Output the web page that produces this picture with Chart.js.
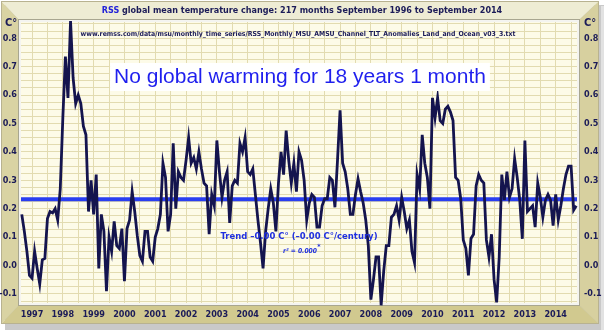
<!DOCTYPE html>
<html><head><meta charset="utf-8">
<script src="https://cdn.jsdelivr.net/npm/chart.js@4.4.0/dist/chart.umd.min.js"></script>
<style>html,body{margin:0;padding:0;background:#fff}#wrap{width:604px;height:330px;position:relative}</style>
</head><body><div id="wrap"><canvas id="c"></canvas></div>
<script>
// ---- data (monthly anomalies, C°, Sep 1996 .. Sep 2014) ----
const firstYear = 1996;
const firstMonth = 9;
const anomalies = [
  0.18, 0.12, 0.05, -0.035, -0.045, 0.05, -0.01, -0.065, 0.02, 0.025,
  0.165, 0.19, 0.185, 0.20, 0.16, 0.27, 0.52, 0.735, 0.59, 0.86,
  0.66, 0.57, 0.60, 0.57, 0.49, 0.46, 0.19, 0.30, 0.18, 0.32,
  -0.01, 0.18, 0.12, -0.09, 0.10, 0.05, 0.155, 0.07, 0.06, 0.13,
  -0.055, 0.13, 0.16, 0.26, 0.19, 0.105, 0.035, 0.015, 0.12, 0.12,
  0.03, 0.015, 0.10, 0.13, 0.18, 0.36, 0.31, 0.12, 0.18, 0.43,
  0.20, 0.33, 0.31, 0.30, 0.37, 0.45, 0.36, 0.38, 0.34, 0.40,
  0.34, 0.29, 0.28, 0.11, 0.25, 0.21, 0.44, 0.33, 0.24, 0.30,
  0.33, 0.15, 0.28, 0.30, 0.29, 0.43, 0.40, 0.45, 0.33, 0.32,
  0.34, 0.25, 0.16, 0.08, -0.01, 0.12, 0.20, 0.27, 0.22, 0.12,
  0.29, 0.40, 0.32, 0.475, 0.37, 0.29, 0.36, 0.26, 0.40, 0.37,
  0.30, 0.16, 0.22, 0.25, 0.24, 0.135, 0.135, 0.21, 0.235, 0.235,
  0.31, 0.30, 0.205, 0.37, 0.546, 0.36, 0.33, 0.27, 0.18, 0.18,
  0.25, 0.305, 0.26, 0.22, 0.16, 0.07, -0.12, -0.05, 0.03, 0.03,
  -0.14, -0.02, 0.07, 0.07, 0.17, 0.18, 0.21, 0.16, 0.24, 0.19,
  0.13, 0.16, 0.05, 0.01, 0.32, 0.27, 0.46, 0.36, 0.31, 0.20,
  0.59, 0.52, 0.59, 0.51, 0.50, 0.55, 0.56, 0.54, 0.51, 0.31,
  0.30, 0.235, 0.09, 0.06, -0.035, 0.095, 0.11, 0.28, 0.32, 0.30,
  0.29, 0.09, 0.03, 0.11, -0.05, -0.13, 0.03, 0.32, 0.23, 0.33,
  0.24, 0.27, 0.376, 0.31, 0.23, 0.094, 0.44, 0.19, 0.20, 0.21,
  0.135, 0.29, 0.24, 0.17, 0.23, 0.25, 0.23, 0.14, 0.25, 0.16,
  0.21, 0.27, 0.32, 0.35, 0.35, 0.195, 0.21
];
const trendLevel = 0.233;
const yearLabels = ['1997','1998','1999','2000','2001','2002','2003','2004','2005','2006','2007','2008','2009','2010','2011','2012','2013','2014'];
const yTickLabels = ['-0.1','0.0','0.1','0.2','0.3','0.4','0.5','0.6','0.7','0.8'];
const titleLead = 'RSS';
const titleRest = ' global mean temperature change: 217 months September 1996 to September 2014';
const sourceText = 'www.remss.com/data/msu/monthly_time_series/RSS_Monthly_MSU_AMSU_Channel_TLT_Anomalies_Land_and_Ocean_v03_3.txt';
const headline = 'No global warming for 18 years 1 month';
const trendText = 'Trend \u20130.00 C\u00b0 (\u20130.00 C\u00b0/century)';
const r2Text = 'r\u00b2 = 0.000';
const unitLabel = 'C\u00b0';

// ---- build ----
const NARROW = "'Liberation Sans Narrow','Arial Narrow','DejaVu Sans Condensed',sans-serif";
const ARIAL = "'Liberation Sans',Arial,sans-serif";
const NAVY = '#1b1b58';
const lineData = anomalies.map((v, i) => ({x: i, y: v}));
const xMin = -0.3, xMax = anomalies.length - 1 + 0.3;
const trendData = [{x: xMin, y: trendLevel}, {x: xMax, y: trendLevel}];

const xTickMap = new Map();
yearLabels.forEach(y => {
  const idx = (Number(y) - firstYear) * 12 + (1 - firstMonth);
  xTickMap.set(idx, y);
  xTickMap.set(idx + 6, '');
});
const yLabelMap = new Map(yTickLabels.map(t => [Math.round(parseFloat(t) * 1000), t]));

function yTicksBuild(scale) {
  const t = [];
  for (let k = -5; k <= 34; k++) t.push({value: k * 0.025});
  scale.ticks = t;
}
function yLabel(v) { return yLabelMap.get(Math.round(v * 1000)) || ''; }

function fitFont(ctx, text, weight, family, style, target) {
  let size = 20;
  ctx.font = `${style} ${weight} ${size}px ${family}`;
  const w = ctx.measureText(text).width;
  size = size * target / w;
  return `${style} ${weight} ${size.toFixed(2)}px ${family}`;
}

const framePlugin = {
  id: 'frame',
  beforeDraw(chart) {
    const ctx = chart.ctx, a = chart.chartArea;
    const W = chart.width, H = chart.height;
    ctx.save();
    ctx.fillStyle = '#ffffff';
    ctx.fillRect(0, 0, W, H);
    ctx.fillStyle = '#c9c9c9';
    ctx.fillRect(5, 5, W - 5, H - 5);
    ctx.fillStyle = '#e2e2e2';
    ctx.fillRect(W - 3, 6, 3, H - 6);
    const L = 1, T = 1, R = W - 5, B = H - 6;
    const il = a.left - 2, it = a.top - 2, ir = a.right + 2, ib = a.bottom + 2;
    function quad(pts, col) {
      ctx.beginPath(); ctx.moveTo(pts[0][0], pts[0][1]);
      for (let i = 1; i < pts.length; i++) ctx.lineTo(pts[i][0], pts[i][1]);
      ctx.closePath(); ctx.fillStyle = col; ctx.fill();
    }
    quad([[L,T],[R,T],[ir,it],[il,it]], '#eeecd4');
    quad([[L,T],[il,it],[il,ib],[L,B]], '#d9d3a3');
    quad([[R,T],[R,B],[ir,ib],[ir,it]], '#d7d09f');
    quad([[L,B],[il,ib],[ir,ib],[R,B]], '#d1c98f');
    ctx.strokeStyle = '#b8b290'; ctx.lineWidth = 1;
    ctx.strokeRect(L + 0.5, T + 0.5, R - L - 1, B - T - 1);
    ctx.strokeStyle = '#a8a690'; ctx.lineWidth = 1;
    ctx.strokeRect(a.left - 2.5, a.top - 2.5, a.right - a.left + 5, a.bottom - a.top + 5);
    ctx.strokeStyle = '#f4f4f0'; ctx.lineWidth = 2;
    ctx.strokeRect(a.left - 1, a.top - 1, a.right - a.left + 2, a.bottom - a.top + 2);
    ctx.fillStyle = '#fdfbe8';
    ctx.fillRect(a.left, a.top, a.right - a.left, a.bottom - a.top);
    ctx.textBaseline = 'middle';
    const full = titleLead + titleRest;
    ctx.font = fitFont(ctx, full, 'bold', NARROW, 'normal', 401);
    const tw = ctx.measureText(full).width;
    let tx = 302 - tw / 2;
    ctx.textAlign = 'left';
    ctx.fillStyle = '#2323d8';
    ctx.fillText(titleLead, tx, 11);
    ctx.fillStyle = NAVY;
    ctx.fillText(titleRest, tx + ctx.measureText(titleLead).width, 11);
    ctx.font = `bold 11px ${NARROW}`;
    ctx.fillStyle = NAVY;
    ctx.textAlign = 'center';
    ctx.fillText(unitLabel, 11, 23);
    ctx.fillText(unitLabel, 590, 23);
    ctx.restore();
  },
  afterDatasetsDraw(chart) {
    const ctx = chart.ctx;
    ctx.save();
    ctx.textBaseline = 'middle';
    ctx.textAlign = 'center';
    ctx.font = fitFont(ctx, sourceText, 'bold', NARROW, 'normal', 435);
    ctx.fillStyle = NAVY;
    ctx.fillText(sourceText, 298, 34);
    ctx.font = fitFont(ctx, headline, 'normal', ARIAL, 'normal', 372);
    const hw = ctx.measureText(headline).width;
    ctx.fillStyle = '#ffffff';
    ctx.fillRect(300 - hw / 2 - 4, 63, hw + 8, 28);
    ctx.fillStyle = '#1f1fee';
    ctx.fillText(headline, 300, 77);
    ctx.font = fitFont(ctx, trendText, 'bold', NARROW, 'normal', 157);
    ctx.fillStyle = '#1f2fe0';
    ctx.fillText(trendText, 299, 237);
    ctx.font = fitFont(ctx, r2Text, 'bold', NARROW, 'italic', 34);
    ctx.fillText(r2Text, 300, 251);
    ctx.font = `bold 7px ${NARROW}`;
    ctx.fillText('*', 319, 247);
    ctx.restore();
  }
};

const gridColor = '#e2dbb0';
new Chart(document.getElementById('c'), {
  type: 'line',
  data: {
    datasets: [
      {data: lineData, borderColor: '#14144e', borderWidth: 2.8, pointRadius: 0, tension: 0, order: 1, clip: false},
      {data: trendData, borderColor: '#2a3ef0', borderWidth: 4, pointRadius: 0, order: 2}
    ]
  },
  options: {
    responsive: true, maintainAspectRatio: false, animation: false,
    layout: {padding: {top: 22, left: 0, right: 0, bottom: 0}},
    plugins: {legend: {display: false}, tooltip: {enabled: false}},
    scales: {
      x: {
        type: 'linear', min: xMin, max: xMax,
        afterBuildTicks(scale) { scale.ticks = [...xTickMap.keys()].filter(v => v >= xMin && v <= xMax).sort((p, q) => p - q).map(v => ({value: v})); },
        afterFit(scale) { scale.height = 27; },
        grid: {color: gridColor, drawTicks: false},
        border: {display: false},
        ticks: {autoSkip: false, maxRotation: 0, padding: 6, color: NAVY, font: {family: NARROW, weight: 'bold', size: 9},
          callback: (v) => xTickMap.get(v) || ''}
      },
      y: {
        type: 'linear', position: 'left', min: -0.132, max: 0.857,
        afterBuildTicks: yTicksBuild,
        afterFit(scale) { scale.width = 21; },
        grid: {color: gridColor, drawTicks: false},
        border: {display: false},
        ticks: {autoSkip: false, padding: 4, color: NAVY, font: {family: NARROW, weight: 'bold', size: 9}, callback: yLabel}
      },
      y2: {
        type: 'linear', position: 'right', min: -0.132, max: 0.857,
        afterBuildTicks: yTicksBuild,
        afterFit(scale) { scale.width = 27; },
        grid: {display: false, drawTicks: false},
        border: {display: false},
        ticks: {autoSkip: false, padding: 7, color: NAVY, font: {family: NARROW, weight: 'bold', size: 9}, callback: yLabel}
      }
    }
  },
  plugins: [framePlugin]
});
</script></body></html>
